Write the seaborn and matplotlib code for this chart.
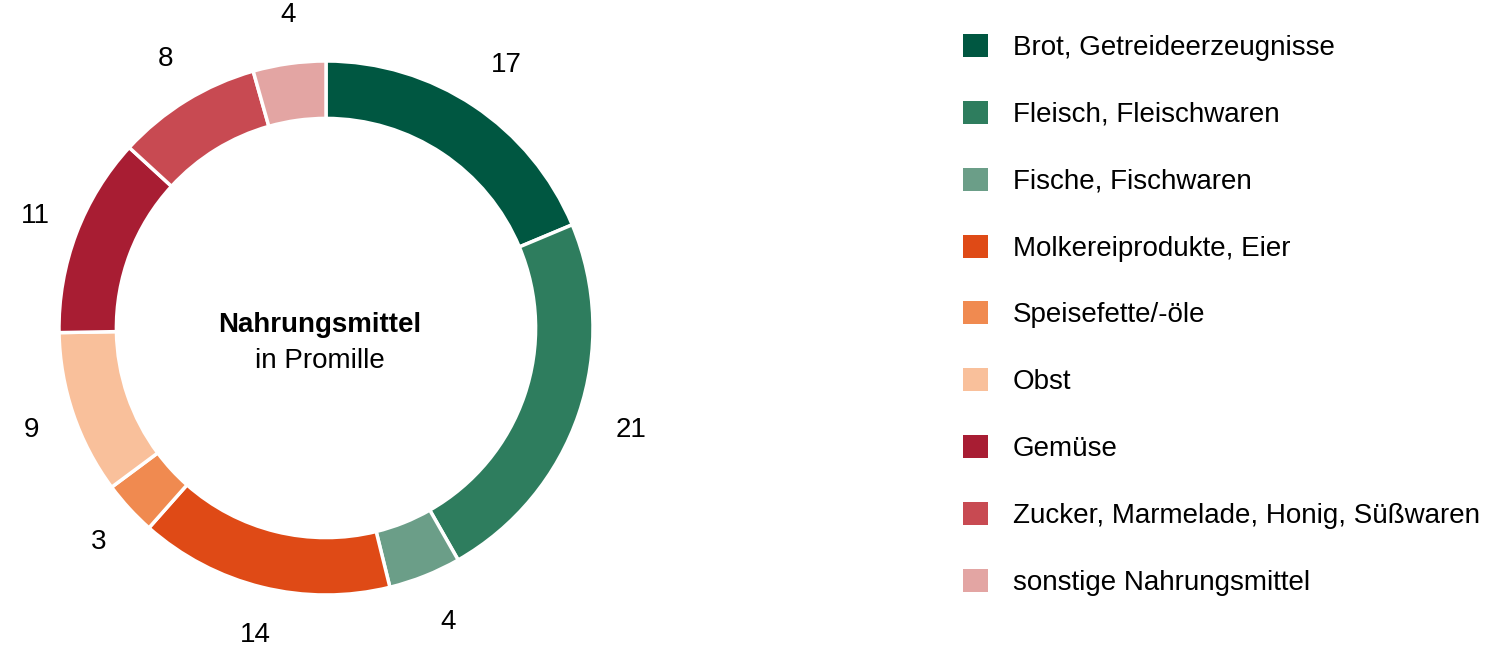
import matplotlib
matplotlib.use("Agg")
import matplotlib.pyplot as plt
from matplotlib.patches import Patch
import seaborn as sns

sns.set_theme(style="white")
plt.rcParams['font.family'] = ['Liberation Sans', 'DejaVu Sans']

# Daten
kategorien = ['Brot, Getreideerzeugnisse', 'Fleisch, Fleischwaren', 'Fische, Fischwaren',
              'Molkereiprodukte, Eier', 'Speisefette/-öle', 'Obst', 'Gemüse',
              'Zucker, Marmelade, Honig, Süßwaren', 'sonstige Nahrungsmittel']
werte = [17, 21, 4, 14, 3, 9, 11, 8, 4]
farben = ['#005741', '#2e7d5e', '#6b9e88', '#df4a16', '#f08a50', '#f9c09b',
          '#a81d33', '#c84a52', '#e3a5a3']

W, H = 1498, 646
fs = 20
fig = plt.figure(figsize=(W / 100, H / 100), dpi=100)

# Ring-Position in Pixeln
cx, cy, R = 326, 328, 267
ax = fig.add_axes([(cx - R) / W, (H - cy - R) / H, 2 * R / W, 2 * R / H])

wedges, texts = ax.pie(werte, labels=[str(v) for v in werte], colors=farben,
                       startangle=90, counterclock=False, radius=1,
                       labeldistance=1.185,
                       wedgeprops=dict(width=0.215, edgecolor='white', linewidth=2.5),
                       textprops=dict(fontsize=fs, color='black'))
for t in texts:
    t.set_ha('center')
    t.set_va('center')
    t.set_clip_on(False)
    x, y = t.get_position()
    t.set_position((x + 0.02, y))
ax.set_xlim(-1, 1)
ax.set_ylim(-1, 1)
ax.set_aspect('equal')
ax.axis('off')

ax.text(-0.022, 0.01, 'Nahrungsmittel', ha='center', va='center',
        fontsize=fs, fontweight='bold', color='black')
ax.text(-0.022, -0.125, 'in Promille', ha='center', va='center',
        fontsize=fs, color='black')

handles = [Patch(facecolor=c, edgecolor='none') for c in farben]
fig.legend(handles, kategorien, loc='upper left',
           bbox_to_anchor=(963 / W, 1 - 34 / H), bbox_transform=fig.transFigure,
           frameon=False, fontsize=fs, handlelength=0.9, handleheight=0.9,
           handletextpad=0.9, labelspacing=1.43, borderpad=0, borderaxespad=0,
           labelcolor='black')

fig.savefig('out.png', dpi=100, facecolor='white')
